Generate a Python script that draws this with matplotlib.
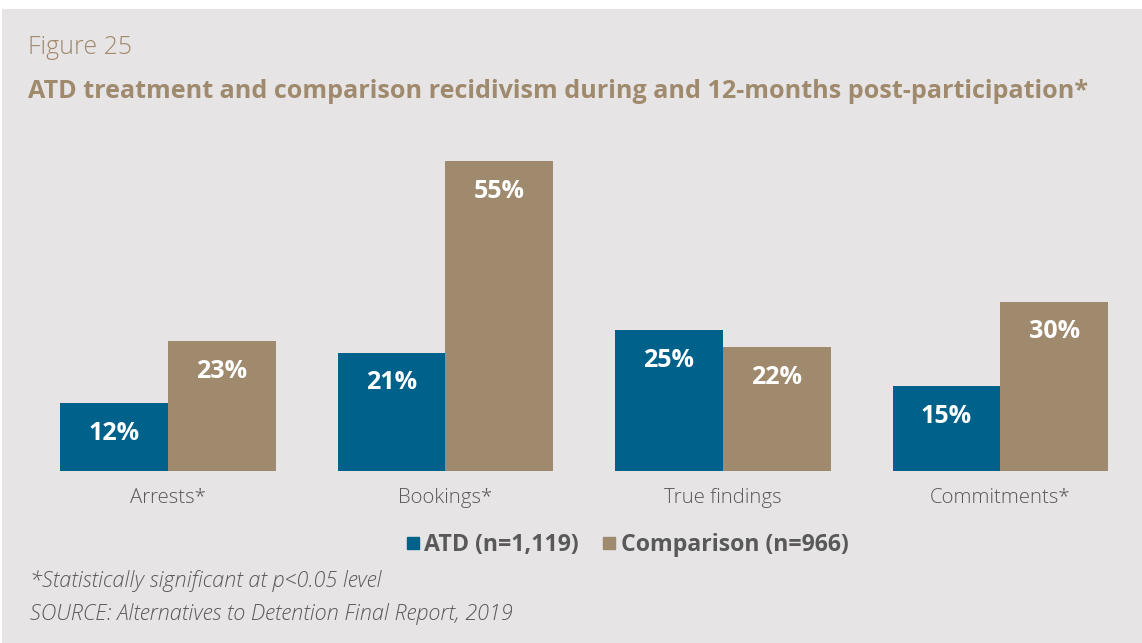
import matplotlib
matplotlib.use("Agg")
import matplotlib.pyplot as plt
from matplotlib.patches import Rectangle
from matplotlib.lines import Line2D

categories = ["Arrests*", "Bookings*", "True findings", "Commitments*"]
atd_values = [12, 21, 25, 15]
comparison_values = [23, 55, 22, 30]
series_names = ["ATD (n=1,119)", "Comparison (n=966)"]

BLUE = "#00618A"
TAN = "#A08A6E"
BG = "#E6E4E4"
GREY = "#595959"
FONT = ["Open Sans", "DejaVu Sans"]

W, H = 1142, 643
fig = plt.figure(figsize=(W / 100, H / 100), dpi=100)
fig.patch.set_facecolor("white")
fig.add_artist(Rectangle((2 / W, 0), 1, 1 - 9 / H, transform=fig.transFigure,
                         facecolor=BG, edgecolor="none", zorder=0))

# axes: full width, baseline at y=471px, top at 161px (=55)
ax = fig.add_axes([0, (H - 471) / H, 1, 310 / H])
ax.set_facecolor("none")
ax.set_xlim((0 - 168) / 277.5, (W - 168) / 277.5)
ax.set_ylim(0, 55)
for s in ax.spines.values():
    s.set_visible(False)
ax.set_xticks([])
ax.set_yticks([])

bw = 108 / 277.5
xs = list(range(len(categories)))
b1 = ax.bar([x - bw / 2 for x in xs], atd_values, width=bw, color=BLUE, zorder=2)
b2 = ax.bar([x + bw / 2 for x in xs], comparison_values, width=bw, color=TAN, zorder=2)

for bars, vals in ((b1, atd_values), (b2, comparison_values)):
    for r, v in zip(bars, vals):
        ax.annotate(f"{v}%", (r.get_x() + r.get_width() / 2, v),
                    xytext=(0, -30), textcoords="offset pixels",
                    ha="center", va="center", color="white",
                    fontsize=18, fontweight="bold", family=FONT)

for x, c in zip(xs, categories):
    ax.annotate(c, (x, 0), xytext=(0, -27), textcoords="offset pixels",
                ha="center", va="center", color=GREY, fontsize=14.7,
                fontweight="light", family=FONT, annotation_clip=False)

fig.text(28 / W, 1 - 48 / H, "Figure 25", color=TAN, fontsize=18,
         fontweight="light", family=FONT, va="center", ha="left")
fig.text(28 / W, 1 - 92 / H,
         "ATD treatment and comparison recidivism during and 12-months post-participation*",
         color=TAN, fontsize=18.1, fontweight="bold", family=FONT, va="center", ha="left")

handles = [Line2D([], [], marker="s", linestyle="none", markersize=8.5, color=BLUE),
           Line2D([], [], marker="s", linestyle="none", markersize=8.5, color=TAN)]
leg = fig.legend(handles, series_names, loc="center", bbox_to_anchor=(627 / W, 1 - 545 / H),
                 ncol=2, frameon=False, handlelength=0.6, handletextpad=0.2,
                 columnspacing=1.0, prop={"family": FONT, "weight": "bold", "size": 16.7})
for t in leg.get_texts():
    t.set_color(GREY)

fig.text(30 / W, 1 - 581 / H, "*Statistically significant at p<0.05 level", color=GREY,
         fontsize=15.6, style="italic", fontweight="light", family=FONT, va="center", ha="left")
fig.text(30 / W, 1 - 614 / H, "SOURCE: Alternatives to Detention Final Report, 2019", color=GREY,
         fontsize=15.6, style="italic", fontweight="light", family=FONT, va="center", ha="left")

fig.savefig("out.png", dpi=100, facecolor=fig.get_facecolor())
